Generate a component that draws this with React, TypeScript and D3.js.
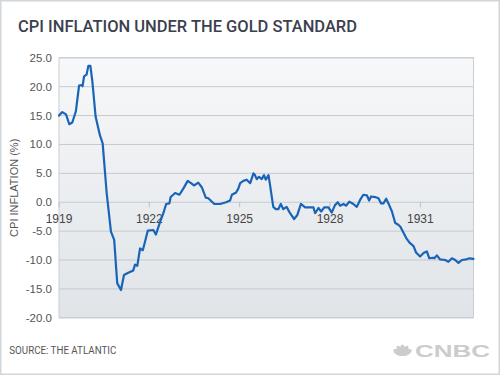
import React from "react";
import * as d3 from "d3";

// months since Jan 1919 and CPI inflation (%)
const monthOffsets = [
  0, 1.3, 2.8, 4.1, 5.3, 6.7, 8.0, 9.1, 9.4, 10.0, 11.0, 11.7, 12.5, 13.3, 14.6, 16.3, 17.4, 19.0,
  20.7, 22.0, 23.2, 24.7, 25.9, 27.6, 29.6, 30.3, 31.2, 32.3, 33.4, 34.3, 35.4, 37.6, 38.6, 40.3,
  41.6, 42.7, 44.0, 44.5, 46.3, 48.0, 49.6, 51.3, 52.6, 53.8, 55.5, 56.9, 58.5, 59.5, 61.9, 64.2,
  66.6, 68.2, 68.9, 70.6, 71.5, 72.2, 73.5, 74.8, 76.2, 77.5, 78.1, 78.8, 79.7, 80.8, 81.7, 82.4,
  83.5, 84.1, 85.4, 86.4, 87.4, 88.4, 89.4, 90.7, 92.1, 93.7, 95.0, 96.4, 98.1, 100.1, 101.4, 102.1,
  103.4, 104.5, 105.7, 107.4, 108.7, 110.0, 111.1, 112.0, 113.4, 114.4, 115.7, 117.3, 118.7, 120.0,
  121.3, 122.7, 123.6, 124.4, 126.0, 127.3, 128.4, 129.3, 130.4, 131.3, 132.7, 134.0, 134.9, 136.0,
  137.3, 138.4, 139.7, 141.3, 142.3, 143.9, 145.3, 146.6, 147.6, 149.0, 149.6, 150.6, 151.9, 153.9,
  155.2, 156.6, 157.9, 159.2, 160.6, 162.3, 163.6, 165.2,
];
const inflation = [
  15.0, 15.6, 15.2, 13.5, 13.8, 15.7, 20.2, 20.3, 20.1, 21.8, 22.1, 23.6, 23.6, 20.9, 14.8, 11.6, 10.2, 1.6,
  -5.1, -6.5, -14.0, -15.2, -12.6, -12.2, -11.8, -10.8, -11.0, -8.0, -8.3, -6.8, -4.9, -4.8, -5.6, -3.4,
  -1.9, -0.3, -0.2, 0.9, 1.6, 1.3, 2.4, 3.7, 3.3, 2.9, 3.4, 2.6, 0.8, 0.7, -0.3, -0.3,
  0.0, 0.3, 1.3, 1.7, 2.4, 3.3, 3.7, 3.9, 3.3, 5.0, 4.7, 4.0, 4.4, 4.0, 4.7, 3.9,
  4.7, 3.0, -0.8, -1.2, -1.2, -0.3, -1.2, -0.8, -1.9, -2.9, -2.2, -0.3, -0.9, -0.9, -0.9, -1.9,
  -1.0, -1.6, -0.9, -0.9, -1.8, -0.5, 0.0, -0.6, -0.3, -0.6, 0.1, -0.3, -0.8, 0.4,
  1.3, 1.2, 0.3, 1.0, 0.9, 0.7, -0.2, -0.2, 0.6, -0.2, -1.6, -3.6, -3.8, -4.2,
  -5.3, -6.2, -7.0, -7.6, -8.7, -9.4, -8.8, -8.5, -9.7, -9.6, -9.7, -9.2, -9.9, -10.0,
  -10.3, -9.7, -10.0, -10.5, -10.0, -9.9, -9.7, -9.8,
];
const yearTicks = [1919, 1922, 1925, 1928, 1931];
const yTicks = [25, 20, 15, 10, 5, 0, -5, -10, -15, -20];

const TITLE = "CPI INFLATION UNDER THE GOLD STANDARD";
const SOURCE = "SOURCE: THE ATLANTIC";
const Y_TITLE = "CPI INFLATION (%)";

export default function App() {
  const W = 500, H = 375;
  const left = 59, right = 473.5, top = 57.8, bottom = 317.8;
  const years = monthOffsets.map((m) => 1919 + m / 12);
  const x = d3.scaleLinear().domain([1919, years[years.length - 1]]).range([left, right]);
  const y = d3.scaleLinear().domain([-20, 25]).range([bottom, top]);
  const line = d3
    .line<number>()
    .x((_, i) => x(years[i]))
    .y((d) => y(d))
    .curve(d3.curveLinear);
  const font = "Arial, 'Liberation Sans', Helvetica, sans-serif";

  return (
    <div style={{ position: "fixed", left: 0, top: 0 }}>
      <svg width={W} height={H} style={{ display: "block" }}>
        <defs>
          <linearGradient id="plotbg" x1="0" y1="0" x2="0" y2="1">
            <stop offset="0%" stopColor="#f7f8f9" />
            <stop offset="100%" stopColor="#e0e4e8" />
          </linearGradient>
        </defs>
        <rect x={0} y={0} width={W} height={H} fill="#ffffff" />
        <rect x={0.75} y={0.75} width={W - 1.5} height={H - 1.5} fill="none" stroke="#cfd6dc" strokeWidth={1.5} />

        <text
          x={18}
          y={32.3}
          fontFamily="Roboto, 'Open Sans', sans-serif"
          fontWeight={500}
          fontSize={17}
          fill="#3c404e"
          textLength={339}
          lengthAdjust="spacingAndGlyphs"
        >
          {TITLE}
        </text>

        <rect x={left} y={top} width={right - left} height={bottom - top} fill="url(#plotbg)" stroke="#c9ced4" strokeWidth={1} />

        {yTicks.map((t) => (
          <g key={t}>
            <line x1={left} x2={right} y1={y(t)} y2={y(t)} stroke="#c6cad0" strokeWidth={1} />
            <text
              x={52}
              y={y(t)}
              dy="0.35em"
              textAnchor="end"
              fontFamily={font}
              fontSize={11.5}
              fill="#555"
            >
              {t.toFixed(1)}
            </text>
          </g>
        ))}

        {yearTicks.map((yr) => (
          <g key={yr}>
            <line x1={x(yr)} x2={x(yr)} y1={y(0)} y2={y(0) + 5} stroke="#b8bdc3" strokeWidth={1} />
            <text
              x={x(yr)}
              y={y(0) + 17}
              dy="0.35em"
              textAnchor="middle"
              fontFamily={font}
              fontSize={12}
              fill="#444"
            >
              {yr}
            </text>
          </g>
        ))}

        <text
          transform={`translate(14.5,${(top + bottom) / 2}) rotate(-90)`}
          textAnchor="middle"
          dy="0.35em"
          fontFamily={font}
          fontSize={11}
          fill="#555"
        >
          {Y_TITLE}
        </text>

        <path d={line(inflation) || ""} fill="none" stroke="#1a64b8" strokeWidth={2.2} strokeLinejoin="round" strokeLinecap="round" />

        <text
          x={9.3}
          y={350.7}
          dy="0.35em"
          fontFamily="Roboto, 'Open Sans', sans-serif"
          fontSize={10}
          fill="#555"
          textLength={107}
          lengthAdjust="spacingAndGlyphs"
        >
          {SOURCE}
        </text>

        <g fill="#cccccc">
          {[-60, -30, 0, 30, 60].map((a, i) => (
            <ellipse
              key={i}
              cx={0}
              cy={-5}
              rx={2.6}
              ry={5.5}
              transform={`translate(402.5,355) rotate(${a}) `}
            />
          ))}
          <text
            x={415}
            y={356.5}
            fontFamily="'Liberation Sans', Arial, sans-serif"
            fontWeight={700}
            fontSize={16.5}
            textLength={75}
            lengthAdjust="spacingAndGlyphs"
          >
            CNBC
          </text>
        </g>
      </svg>
    </div>
  );
}
